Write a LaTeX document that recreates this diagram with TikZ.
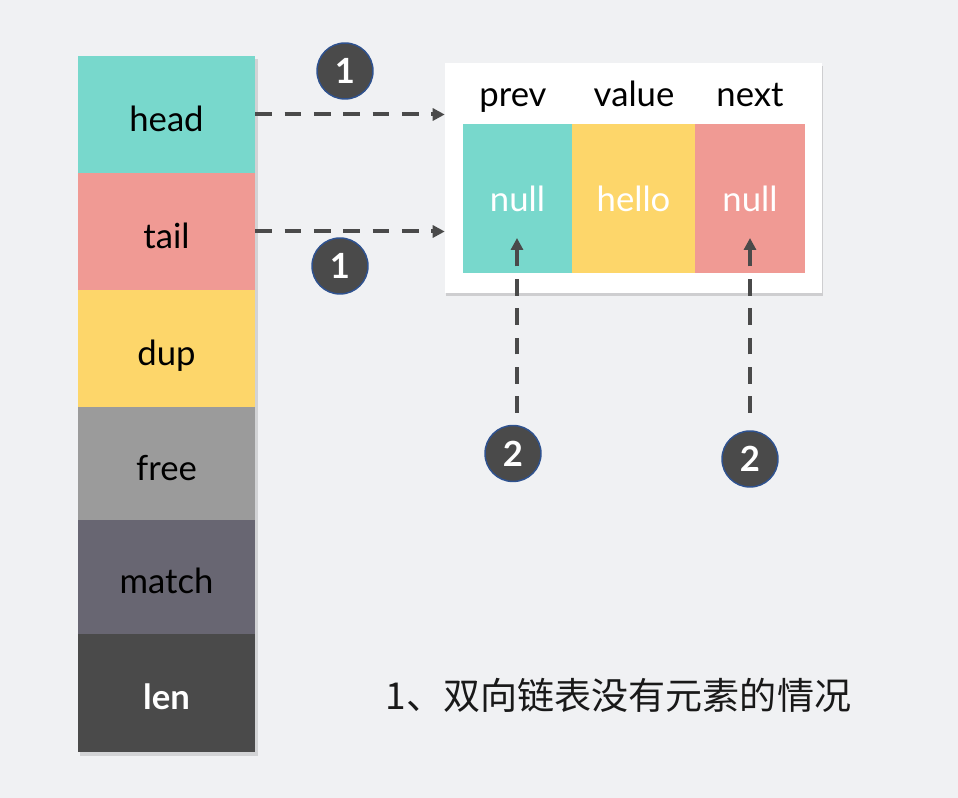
\documentclass[tikz,border=0pt]{standalone}
\usepackage{fontspec}
\setmainfont{Lato}
\newfontfamily\cjk{Noto Sans CJK SC}
\usetikzlibrary{shadows,arrows.meta}
\definecolor{bgc}{HTML}{F0F1F3}
\definecolor{cteal}{HTML}{78D8CC}
\definecolor{cred}{HTML}{F09A94}
\definecolor{cyel}{HTML}{FDD66A}
\definecolor{cgray}{HTML}{9B9B9B}
\definecolor{cslate}{HTML}{686672}
\definecolor{cdark}{HTML}{4A4A4A}
\definecolor{cblue}{HTML}{2F528F}
\tikzset{
  field/.style={minimum width=132.75pt, inner sep=0pt, font=\fontsize{26}{30}\selectfont, text=black, text height=25.2pt, text depth=0pt},
  cell/.style={minimum height=111.75pt, inner sep=0pt, font=\fontsize{26}{30}\selectfont, text=white},
  hdr/.style={anchor=base, inner sep=0pt, font=\fontsize{26}{30}\selectfont, text=black},
  badge/.style={circle, fill=cdark, draw=cblue, line width=1.1pt, minimum size=42pt, inner sep=0pt, text=white, font=\fontsize{26}{30}\selectfont\bfseries},
  dasharrow/.style={draw=cdark, line width=3pt, dash pattern=on 12.5pt off 9.5pt, -{Triangle[length=9pt,width=9pt]}},
}
\begin{document}
\begin{tikzpicture}[x=0.75pt,y=-0.75pt]
\fill[bgc] (0,0) rectangle (958,798);
\useasboundingbox (0,0) rectangle (958,798);
% shadow of column
\fill[black, opacity=0.12] (80,59) rectangle (258,756);
% left column
\node[field, fill=cteal, minimum height=87.75pt] (head) at (166.5,114.5) {head};
\node[field, fill=cred, minimum height=87.75pt] (tail) at (166.5,231.5) {tail};
\node[field, fill=cyel, minimum height=87.75pt] (dup) at (166.5,348.5) {dup};
\node[field, fill=cgray, minimum height=84.75pt] (free) at (166.5,463.5) {free};
\node[field, fill=cslate, minimum height=85.5pt] (match) at (166.5,577) {match};
\node[field, fill=cdark, minimum height=88.5pt, text=white, font=\fontsize{26}{30}\selectfont\bfseries] (len) at (166.5,693) {len};
% list node box
\node[fill=white, minimum width=282.75pt, minimum height=172.5pt, inner sep=0pt,
      drop shadow={shadow xshift=1pt, shadow yshift=-2pt, opacity=0.3}] (box) at (633.5,178) {};
\node[hdr] (hprev) at (513,107) {prev};
\node[hdr] (hvalue) at (634,107) {value};
\node[hdr] (hnext) at (750,107) {next};
\node[cell, fill=cteal, minimum width=81.75pt] (prev) at (517.5,198.5) {null};
\node[cell, fill=cyel, minimum width=92.25pt] (value) at (633.5,198.5) {hello};
\node[cell, fill=cred, minimum width=82.5pt] (next) at (750,198.5) {null};
% badges
\node[badge] (b1a) at (345,71) {1};
\node[badge] (b1b) at (340,266) {1};
\node[badge] (b2a) at (513,453.5) {2};
\node[badge] (b2b) at (750,459) {2};
% arrows
\draw[dasharrow] (head.east) -- (head.east -| box.west);
\draw[dasharrow] (tail.east) -- (tail.east -| box.west);
\coordinate (s2a) at (517,413);
\coordinate (e2a) at (517,238);
\coordinate (s2b) at (750,413);
\coordinate (e2b) at (750,238);
\draw[dasharrow] (s2a) -- (e2a);
\draw[dasharrow] (s2b) -- (e2b);
% caption
\node[font=\cjk\fontsize{27.8}{32}\selectfont, text=black!90, inner sep=0pt] (cap) at (618.5,695) {1、双向链表没有元素的情况};
\end{tikzpicture}
\end{document}
